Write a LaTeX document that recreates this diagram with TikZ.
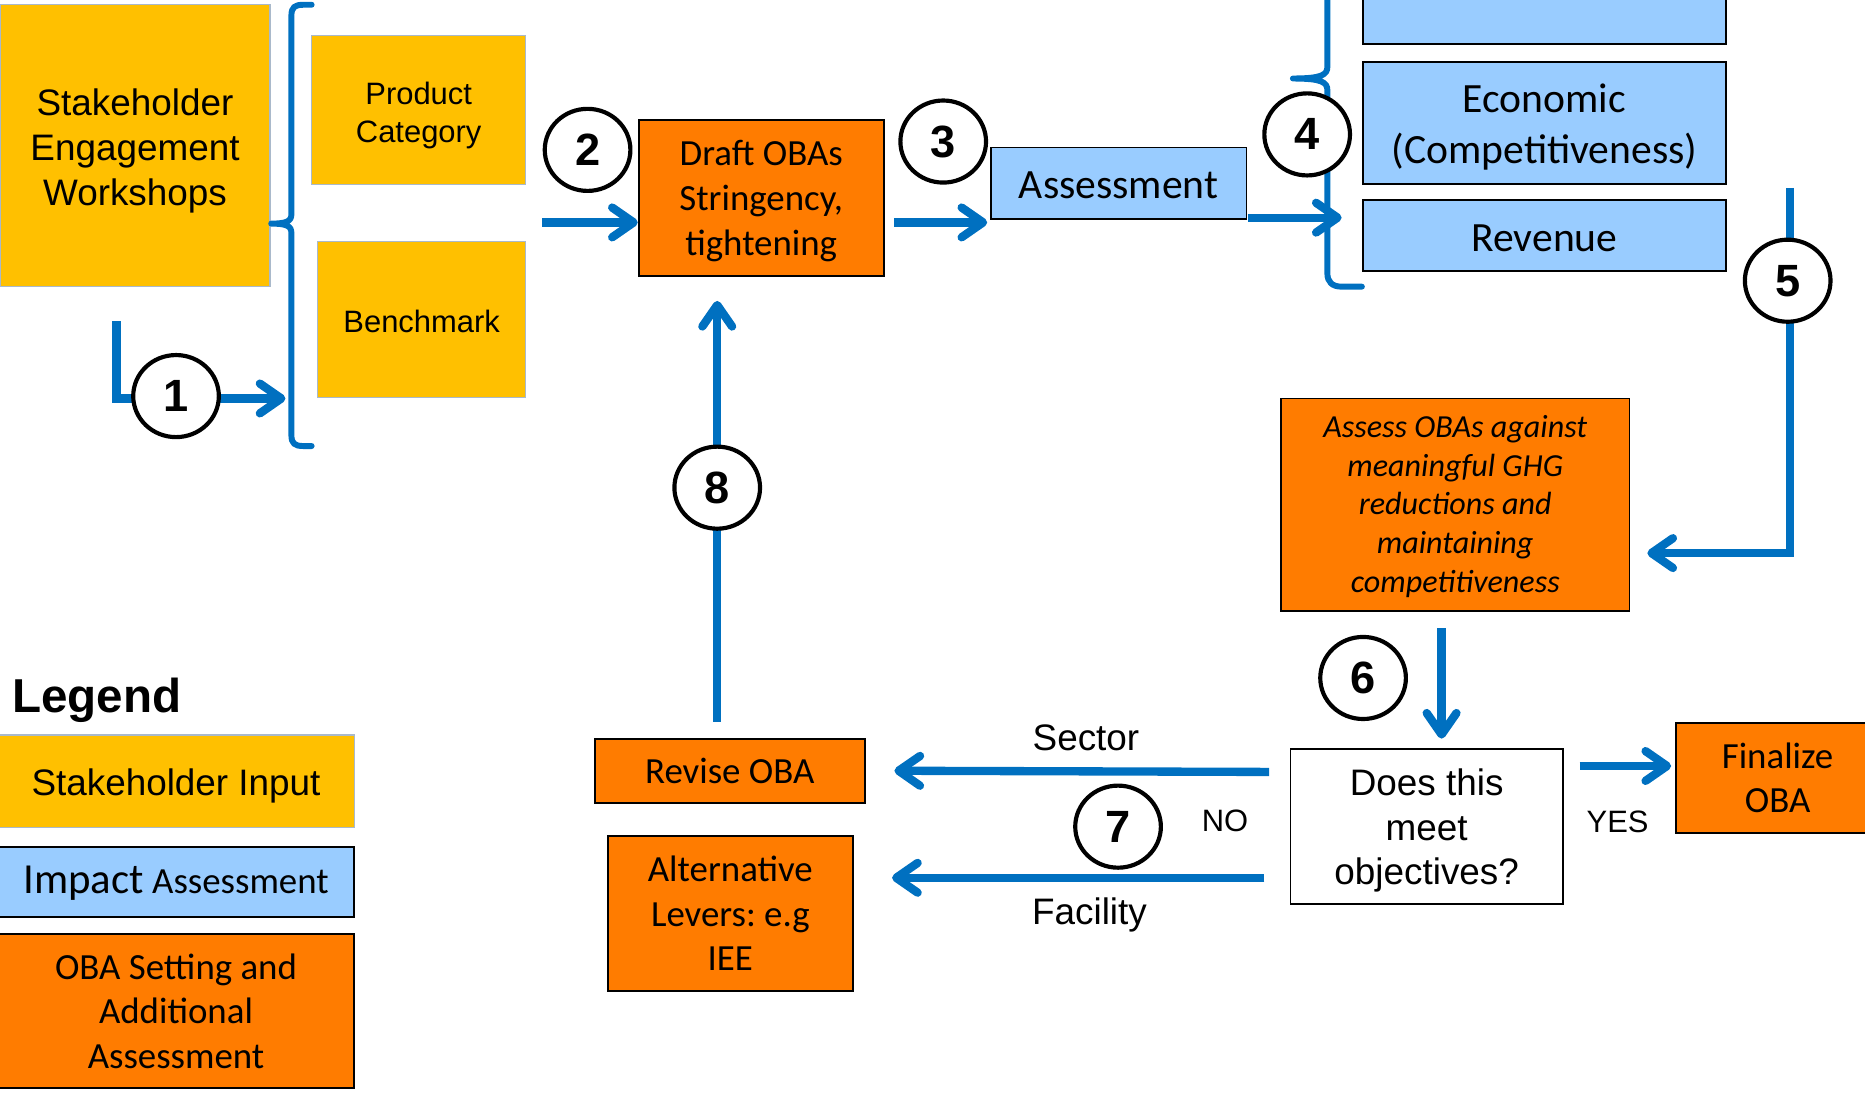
\documentclass[tikz,border=0pt]{standalone}
\usepackage{fontspec}
\setmainfont{Liberation Sans}
\newfontfamily\calfont{Carlito}
\usetikzlibrary{arrows.meta,shapes.geometric}
\definecolor{goldc}{HTML}{FFC000}
\definecolor{goldedge}{HTML}{A9B9CB}
\definecolor{orangec}{HTML}{FF7C00}
\definecolor{bluec}{HTML}{99CCFF}
\definecolor{linec}{HTML}{0070C0}
\newcommand\txtdown[2]{\raisebox{-#1}[\height][\depth]{\begin{tabular}{@{}c@{}}#2\end{tabular}}}
\newcommand\lowerby[2]{\raisebox{-#1}[\height][\depth]{#2}}
\frenchspacing
\begin{document}
\begin{tikzpicture}[x=1pt,y=-1pt,
 box/.style={rectangle, inner sep=0pt, align=center},
 goldbox/.style={box, fill=goldc, draw=goldedge, line width=1pt},
 orbox/.style={box, fill=orangec, draw=black, line width=1.6pt},
 blbox/.style={box, fill=bluec, draw=black, line width=1.6pt},
 whbox/.style={box, fill=white, draw=black, line width=1.6pt},
 num/.style={ellipse, draw=black, fill=white, line width=3.5pt, minimum width=72pt, minimum height=69pt, inner sep=0pt, font=\bfseries\fontsize{38}{38}\selectfont},
 flow/.style={draw=linec, line width=7pt, -{Straight Barb[length=18pt,width=25pt,round]}},
 brc/.style={draw=linec, line width=5pt, line cap=round, line join=round},
 ar31/.style={font=\fontsize{31}{37.5}\selectfont},
 ar26/.style={font=\fontsize{26}{32}\selectfont},
 cb31/.style={font=\calfont\fontsize{31}{37.5}\selectfont},
 cb35/.style={font=\calfont\fontsize{35}{43}\selectfont},
 lbl/.style={inner sep=0pt},
]
\useasboundingbox (0,0) rectangle (1568,921);

% ---- boxes ----
\node[goldbox, ar31, minimum width=227pt, minimum height=237pt] (wk) at (113.5,122.5) {\txtdown{5pt}{Stakeholder\\Engagement\\Workshops}};
\node[goldbox, ar26, minimum width=180pt, minimum height=125pt] (pc) at (352,92.5) {\txtdown{5pt}{Product\\Category}};
\node[goldbox, ar26, minimum width=175pt, minimum height=131pt] (bm) at (354.5,268.5) {\lowerby{2pt}{Benchmark}};
\node[orbox, cb31, minimum width=206pt, minimum height=131pt] (draft) at (640,166.5) {\txtdown{3pt}{Draft OBAs\\Stringency,\\tightening}};
\node[blbox, cb35, minimum width=215pt, minimum height=60pt] (assess) at (940.5,154) {\lowerby{2pt}{Assessment}};
\node[blbox, minimum width=305pt, minimum height=80pt] (topb) at (1298.5,-3) {};
\node[blbox, cb35, minimum width=305pt, minimum height=103pt] (econ) at (1298.5,103.5) {\txtdown{4pt}{Economic\\(Competitiveness)}};
\node[blbox, cb35, minimum width=305pt, minimum height=60pt] (rev) at (1298.5,198) {\lowerby{2pt}{Revenue}};
\node[orbox, font=\calfont\itshape\fontsize{27}{32.4}\selectfont, minimum width=293pt, minimum height=179pt] (ass2) at (1223.5,424.5) {\txtdown{2pt}{Assess OBAs against\\meaningful GHG\\reductions and\\maintaining\\competitiveness}};
\node[whbox, ar31, minimum width=229pt, minimum height=130pt] (dec) at (1199.5,695) {\txtdown{4pt}{Does this\\meet\\objectives?}};
\node[orbox, cb31, minimum width=171pt, minimum height=92pt] (fin) at (1494.5,654) {Finalize\\OBA};
\node[orbox, cb31, minimum width=227pt, minimum height=54pt] (revoba) at (613.5,648) {Revise OBA};
\node[orbox, cb31, minimum width=206pt, minimum height=130pt] (alt) at (614,768) {Alternative\\Levers: e.g\\IEE};

% ---- legend ----
\node[lbl, anchor=west, font=\bfseries\fontsize{40}{40}\selectfont] (legt) at (10,589) {Legend};
\node[goldbox, ar31, minimum width=300pt, minimum height=78pt] (leg1) at (148,657) {\lowerby{4pt}{Stakeholder Input}};
\node[blbox, minimum width=300pt, minimum height=59pt] (leg2) at (148,741.5) {\lowerby{1pt}{{\calfont\fontsize{36}{40}\selectfont Impact}{\calfont\fontsize{31}{40}\selectfont\ Assessment}}};
\node[orbox, cb31, minimum width=300pt, minimum height=130pt] (leg3) at (148,850) {OBA Setting and\\Additional\\Assessment};

% ---- braces ----
\draw[brc] (262,4) -- (255,4) .. controls (248,4) and (245,6) .. (245,13) -- (245,180)
  .. controls (245,186) and (241,188) .. (228,188)
  .. controls (241,188) and (245,190) .. (245,196) -- (245,366)
  .. controls (245,373) and (248,375) .. (255,375) -- (262,375);
\draw[brc] (1116,-60) -- (1116,56) .. controls (1116,63) and (1111,66) .. (1087,66)
  .. controls (1111,66) and (1116,69) .. (1116,76) -- (1116,230)
  .. controls (1116,237) and (1120,241) .. (1128,241) -- (1145,241);

% ---- connector ends ----
\coordinate (c1s) at (98,270);
\coordinate (c1e) at (240,335);
\coordinate (c2s) at (456,187);
\coordinate (c3s) at (752,187);
\coordinate (c3e) at (830,187);
\coordinate (c4s) at (1049,183);
\coordinate (c4e) at (1128,183);
\coordinate (c5s) at (1505,158);
\coordinate (c5e) at (1385,465);
\coordinate (c6s) at (1212,528);
\coordinate (c6e) at (1212,621);
\coordinate (cys) at (1328,644);
\coordinate (cye) at (1405,644);
\coordinate (css) at (1067,649);
\coordinate (cse) at (752,648);
\coordinate (cfs) at (1063,738);
\coordinate (cfe) at (750,738);
\coordinate (c8s) at (603,607);
\coordinate (c8e) at (603,253);

% ---- connectors ----
\draw[flow] (c1s) |- (c1e);
\draw[flow] (c2s) -- (c2s -| draft.west);
\draw[flow] (c3s) -- (c3e);
\draw[flow] (c4s) -- (c4e);
\draw[flow] (c5s) |- (c5e);
\draw[flow] (c6s) -- (c6e);
\draw[flow] (cys) -- (cye);
\draw[flow] (css) -- (cse);
\draw[flow] (cfs) -- (cfe);
\draw[flow] (c8s) -- (c8e);

% ---- labels ----
\node[lbl, ar31] (lsec) at (913,620) {Sector};
\node[lbl, ar31] (lfac) at (916,769) {Facility};
\node[lbl, font=\fontsize{26}{26}\selectfont] (lno) at (1030,690) {NO};
\node[lbl, font=\fontsize{26}{26}\selectfont] (lyes) at (1360,691) {YES};

% ---- step numbers ----
\node[num] (n1) at (148,333) {1};
\node[num] (n2) at (494,126) {2};
\node[num] (n3) at (793,119) {3};
\node[num] (n4) at (1099,113) {4};
\node[num] (n5) at (1503,236) {5};
\node[num] (n6) at (1146,570) {6};
\node[num] (n7) at (940,695) {7};
\node[num] (n8) at (603,410) {8};
\end{tikzpicture}
\end{document}
